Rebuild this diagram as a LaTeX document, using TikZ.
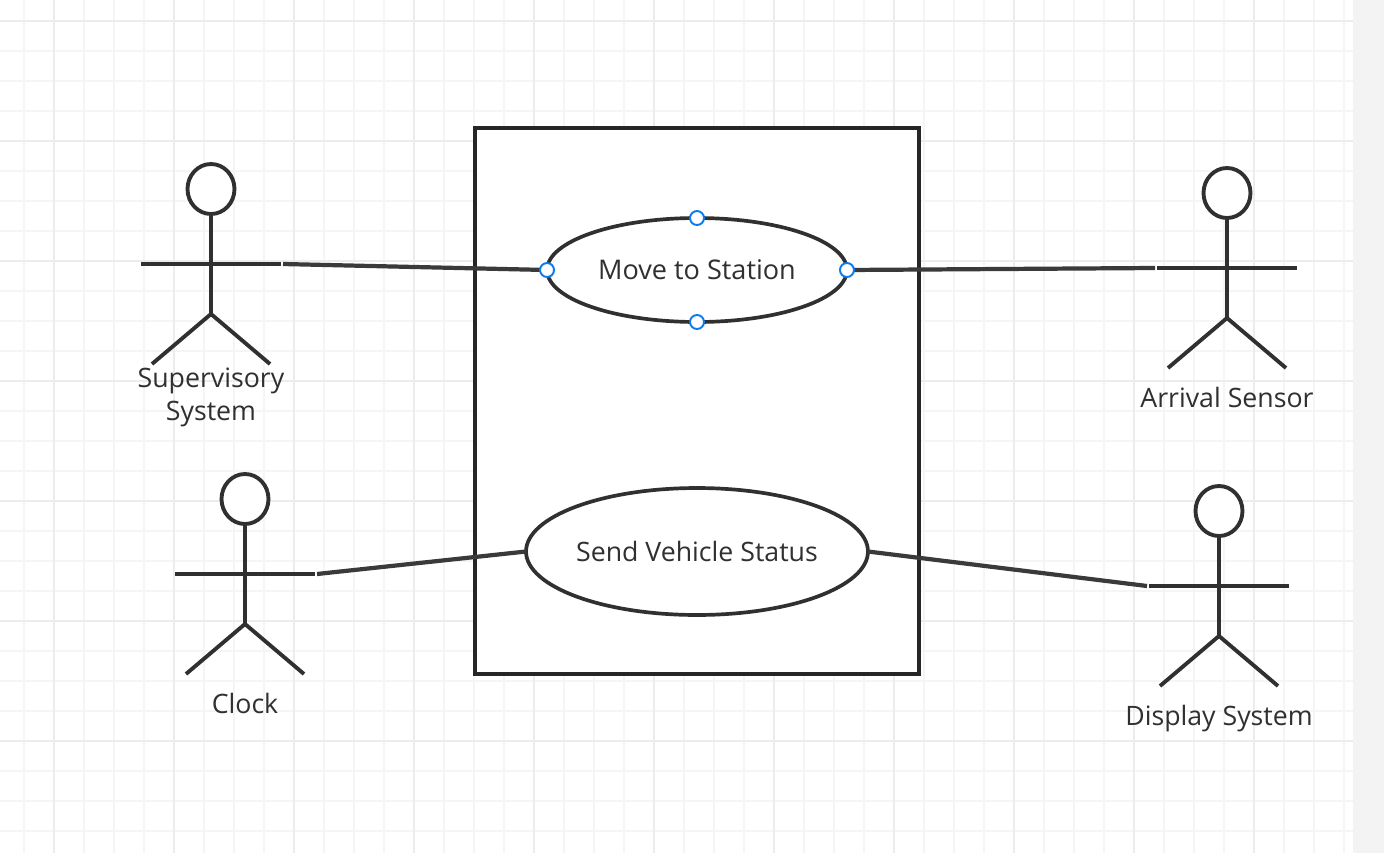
\documentclass[tikz,border=0pt]{standalone}
\usepackage{fontspec}
\setmainfont{Open Sans}
\usetikzlibrary{shapes.geometric, positioning, calc}
\definecolor{UCInk}{RGB}{48,48,48}
\definecolor{UCBlue}{RGB}{10,124,240}
\definecolor{UCGridMajor}{RGB}{236,236,236}
\definecolor{UCGridMinor}{RGB}{245,245,245}
\definecolor{UCStrip}{RGB}{243,243,243}

\begin{document}
\begin{tikzpicture}[
          x=0.02cm, y=-0.02cm,
          limb/.style={draw=UCInk, line width=2.2pt},
          link/.style={draw=UCInk!95, line width=2.4pt},
          usecase/.style={ellipse, draw=UCInk, fill=white, line width=2.1pt,
                     inner sep=0pt, outer sep=0pt, font=\fontsize{15.4}{18}\selectfont, text=UCInk},
          heads/.style={ellipse, draw=UCInk, fill=white, line width=2.2pt,
                     minimum width=0.94cm, minimum height=1cm, inner sep=0pt, outer sep=0pt},
          lbl/.style={font=\fontsize{15.2}{18.7}\selectfont, text=UCInk, align=center, inner sep=0pt},
          handle/.style={circle, draw=UCBlue, fill=white, line width=1.1pt,
                     minimum size=0.28cm, inner sep=0pt}
        ]
        % page and grid
        \path[use as bounding box] (0,0) rectangle (1384,853);
        \fill[white] (0,0) rectangle (1384,853);
        \fill[UCStrip] (1353,0) rectangle (1384,853);
        \foreach \x in {24,54,...,1344}{
          \draw[UCGridMinor, line width=1.4pt] (\x,0) -- (\x,853);
        }
        \foreach \y in {21,51,...,850}{
          \draw[UCGridMinor, line width=1.4pt] (0,\y) -- (1353,\y);
        }
        \foreach \x in {54,174,...,1344}{
          \draw[UCGridMajor, line width=1.4pt] (\x,0) -- (\x,853);
        }
        \foreach \y in {21,141,...,850}{
          \draw[UCGridMajor, line width=1.4pt] (0,\y) -- (1353,\y);
        }

        % system box
        \node[rectangle, draw=UCInk!80!black, fill=white, line width=2pt, inner sep=0pt,
              minimum width=8.88cm, minimum height=10.92cm]
              (system) at (697,401) {};

        % use cases
        \node[usecase, minimum width=6cm, minimum height=2.08cm]
              (move) at (697,270) {Move to Station};
        \node[usecase, font=\fontsize{15.2}{18}\selectfont, minimum width=6.84cm, minimum height=2.54cm]
              (send) at (697,551.5) {Send Vehicle Status};

        % actors
        \foreach \nm/\cx/\cy in {sup/211/164, arr/1227/168, clk/245/474, dsp/1219/486}{
          \node[heads] (\nm head) at (\cx,\cy+25) {};
          \coordinate (\nm arml) at (\cx-70,\cy+100);
          \coordinate (\nm armr) at (\cx+70,\cy+100);
          \coordinate (\nm hub)  at (\cx,\cy+150);
          \coordinate (\nm footl) at (\cx-59,\cy+200);
          \coordinate (\nm footr) at (\cx+59,\cy+200);
          \coordinate (\nm pinl) at (\cx-72,\cy+100);
          \coordinate (\nm pinr) at (\cx+72,\cy+100);
          \draw[limb] (\nm head.south) -- (\nm hub);
          \draw[limb] (\nm arml) -- (\nm armr);
          \draw[limb] (\nm footl) -- (\nm hub) -- (\nm footr);
        }

        \node[lbl] (suplbl) at (211,397.5) {Supervisory\\System};
        \node[lbl] (arrlbl) at (1227,397) {Arrival Sensor};
        \node[lbl] (clklbl) at (245,703) {Clock};
        \node[lbl] (dsplbl) at (1219,719) {Display System};

        % connectors
        \draw[link] (suppinr) -- (move.west);
        \draw[link] (move.east) -- (arrpinl);
        \draw[link] (clkpinr) -- (send.west);
        \draw[link] (send.east) -- (dsppinl);

        % selection handles
        \foreach \a in {north, south, east, west}{
          \node[handle] (h\a) at (move.\a) {};
        }
      \end{tikzpicture}
\end{document}
